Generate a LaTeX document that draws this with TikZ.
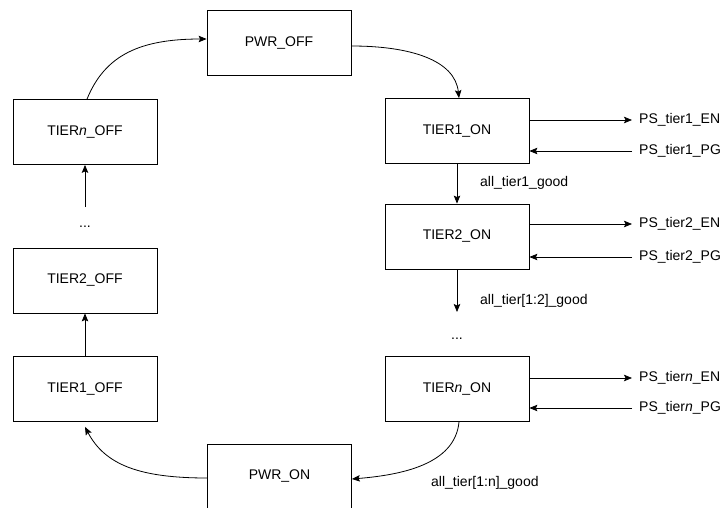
\documentclass[tikz,border=0pt]{standalone}
\usepackage{fontspec}
\setmainfont{Liberation Sans}
\usetikzlibrary{arrows.meta}
\begin{document}
\begin{tikzpicture}[x=1pt,y=-1pt,
  state/.style={draw, line width=0.8pt, minimum width=144pt, minimum height=65pt, inner sep=0pt, font=\fontsize{14}{16}\selectfont},
  lbl/.style={inner sep=0pt, anchor=west, font=\fontsize{14}{16}\selectfont},
  dotsnode/.style={inner sep=0pt, font=\fontsize{14}{16}\selectfont},
  arr/.style={line width=0.8pt, -{Stealth[length=8pt,width=6.5pt,inset=1.5pt]}},
]
\useasboundingbox (0,0) rectangle (723,508);

% states
\node[state] (poff)  at (279,43)    {PWR\_OFF};
\node[state] (tnoff) at (85,132)    {TIER\textit{n}\_OFF};
\node[state] (t2off) at (85,280.5)  {TIER2\_OFF};
\node[state] (t1off) at (85,389)    {TIER1\_OFF};
\node[state] (pon)   at (279.5,476.5) {PWR\_ON};
\node[state] (t1on)  at (457,131)   {TIER1\_ON};
\node[state] (t2on)  at (457,236.5) {TIER2\_ON};
\node[state] (tnon)  at (457,389)   {TIER\textit{n}\_ON};

% labels
\node[lbl] (en1) at (639,120) {PS\_tier1\_EN};
\node[lbl] (pg1) at (639,151) {PS\_tier1\_PG};
\node[lbl] (en2) at (639,224) {PS\_tier2\_EN};
\node[lbl] (pg2) at (639,257) {PS\_tier2\_PG};
\node[lbl] (enn) at (639,378) {PS\_tier\textit{n}\_EN};
\node[lbl] (pgn) at (639,408) {PS\_tier\textit{n}\_PG};
\node[lbl] (g1) at (480,183) {all\_tier1\_good};
\node[lbl] (g2) at (480,301) {all\_tier[1:2]\_good};
\node[lbl] (gn) at (431,483) {all\_tier[1:n]\_good};
\node[dotsnode] (dotsr) at (457,339) {...};
\node[dotsnode] (dotsl) at (85,227) {...};

% signal arrows
\draw[arr] (t1on.east |- en1) -- ([xshift=-7pt]en1.west);
\draw[arr] ([xshift=-7pt]pg1.west) -- (t1on.east |- pg1);
\draw[arr] (t2on.east |- en2) -- ([xshift=-7pt]en2.west);
\draw[arr] ([xshift=-7pt]pg2.west) -- (t2on.east |- pg2);
\draw[arr] (tnon.east |- enn) -- ([xshift=-7pt]enn.west);
\draw[arr] ([xshift=-7pt]pgn.west) -- (tnon.east |- pgn);

% right chain
\draw[arr] (t1on) -- (t2on);
\coordinate (c2) at (457,312);
\draw[arr] (t2on) -- (c2);

% left chain
\draw[arr] (t1off) -- (t2off);
\coordinate (cl) at (85,207);
\draw[arr] (cl) -- (tnoff);

% curved transitions
\draw[arr] ([xshift=2pt]tnoff.north) .. controls (105,55) and (140,39) .. ([yshift=4pt]poff.west);
\draw[arr] ([yshift=-3pt]poff.east) .. controls (410,46) and (455,60) .. ([xshift=2pt]t1on.north);
\draw[arr] ([xshift=2pt]tnon.south) .. controls (455,465) and (400,475) .. ([yshift=-2.5pt]pon.east);
\draw[arr] ([yshift=-1.5pt]pon.west) .. controls (140,478) and (105,465) .. ([yshift=-5pt]t1off.south);
\end{tikzpicture}
\end{document}
